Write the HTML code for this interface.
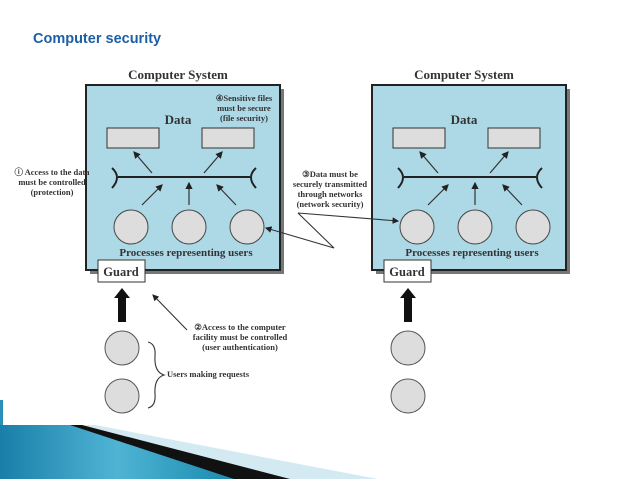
<!DOCTYPE html>
<html><head><style>
body{margin:0;width:638px;height:479px;overflow:hidden;background:#fff;position:relative;font-family:"Liberation Serif",serif}
</style></head><body>
<svg width="638" height="479" style="position:absolute;left:0;top:0" font-family="Liberation Serif,serif">
<defs>
<marker id="a" markerWidth="6" markerHeight="6" refX="5" refY="3" orient="auto"><path d="M0,0 L6,3 L0,6z" fill="#222"/></marker>
<linearGradient id="g" x1="0" y1="0" x2="1" y2="0"><stop offset="0" stop-color="#1a7fa8"/><stop offset="0.5" stop-color="#4fb4d4"/><stop offset="1" stop-color="#1a8aae"/></linearGradient>
</defs>
<text x="33" y="43" font-family="Liberation Sans,sans-serif" font-weight="bold" font-size="14.5" fill="#1d5fa6">Computer security</text>
<g id="sys">
<text x="178" y="79" text-anchor="middle" font-weight="bold" font-size="13" fill="#333">Computer System</text>
<rect x="90" y="89" width="194" height="185" fill="#777"/>
<rect x="86" y="85" width="194" height="185" fill="#add9e6" stroke="#222" stroke-width="2"/>
<text x="178" y="124" text-anchor="middle" font-weight="bold" font-size="13" fill="#333">Data</text>
<rect x="107" y="128" width="52" height="20" fill="#ddd" stroke="#333"/>
<rect x="202" y="128" width="52" height="20" fill="#ddd" stroke="#333"/>
<line x1="118" y1="177" x2="250" y2="177" stroke="#222" stroke-width="2"/>
<path d="M112,168 Q122,177 112,188" fill="none" stroke="#222" stroke-width="2"/>
<path d="M256,168 Q246,177 256,188" fill="none" stroke="#222" stroke-width="2"/>
<g stroke="#333" stroke-width="1.2" marker-end="url(#a)">
<line x1="152" y1="173" x2="134" y2="152"/><line x1="204" y1="173" x2="222" y2="152"/>
<line x1="142" y1="205" x2="162" y2="185"/><line x1="189" y1="205" x2="189" y2="183"/><line x1="236" y1="205" x2="217" y2="185"/>
</g>
<circle cx="131" cy="227" r="17" fill="#ddd" stroke="#444"/>
<circle cx="189" cy="227" r="17" fill="#ddd" stroke="#444"/>
<circle cx="247" cy="227" r="17" fill="#ddd" stroke="#444"/>
<text x="186" y="256" text-anchor="middle" font-weight="bold" font-size="11" fill="#333">Processes representing users</text>
<rect x="98" y="260" width="47" height="22" fill="#fff" stroke="#333"/>
<text x="121" y="276" text-anchor="middle" font-weight="bold" font-size="12.5" fill="#333">Guard</text>
<path d="M118,322 V298 H114 L122,288 L130,298 H126 V322z" fill="#111"/>
<circle cx="122" cy="348" r="17" fill="#ddd" stroke="#555"/>
<circle cx="122" cy="396" r="17" fill="#ddd" stroke="#555"/>
</g>
<use href="#sys" x="286"/>
<g font-weight="bold" font-size="8.5" fill="#333" text-anchor="middle">
<text x="52" y="175">ⓘ Access to the data</text><text x="52" y="185">must be controlled</text><text x="52" y="195">(protection)</text>
<text x="244" y="101">④Sensitive files</text><text x="244" y="111">must be secure</text><text x="244" y="121">(file security)</text>
<text x="330" y="177">③Data must be</text><text x="330" y="187">securely transmitted</text><text x="330" y="197">through networks</text><text x="330" y="207">(network security)</text>
<text x="240" y="330">②Access to the computer</text><text x="240" y="340">facility must be controlled</text><text x="240" y="350">(user authentication)</text>
<text x="208" y="377">Users making requests</text>
</g>
<g stroke="#333" stroke-width="1.1" fill="none">
<line x1="187" y1="330" x2="153" y2="295" marker-end="url(#a)"/>
<polyline points="298,213 334,248 266,228" marker-end="url(#a)"/>
<line x1="298" y1="213" x2="398" y2="221" marker-end="url(#a)"/>
<path d="M148,342 Q156,344 155,356 Q154,372 164,375 Q154,378 155,394 Q156,406 148,408"/>
</g>
<rect x="0" y="400" width="3" height="26" fill="#2a8fb8"/>
<polygon points="80,425 95,425 378,479 285,479" fill="#d4eaf2"/>
<polygon points="68,425 82,425 290,479 232,479" fill="#111"/>
<polygon points="0,425 70,425 234,479 0,479" fill="url(#g)"/>
</svg>
</body></html>
